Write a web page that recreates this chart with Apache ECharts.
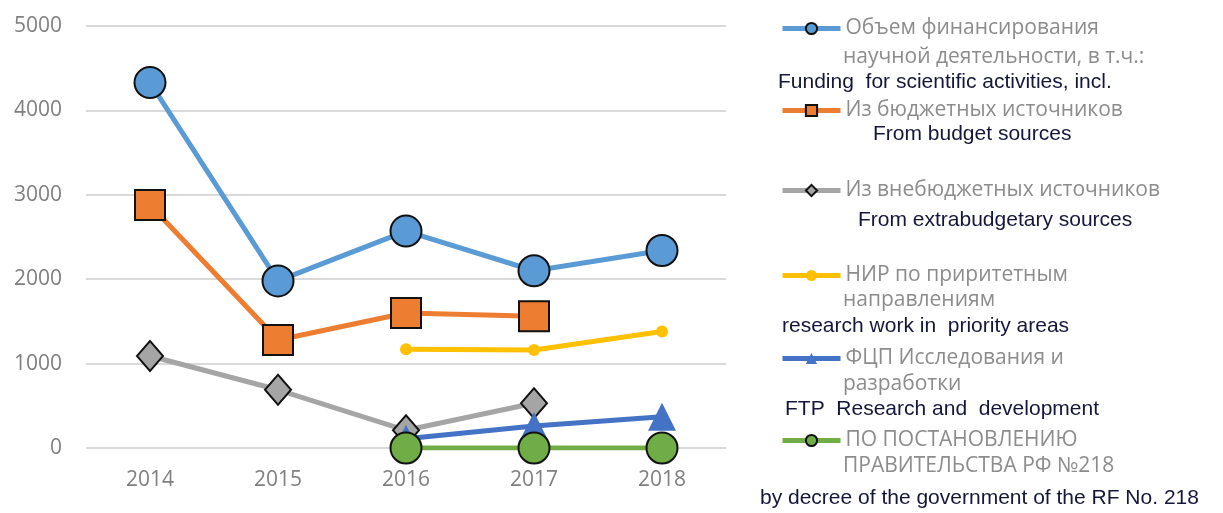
<!DOCTYPE html>
<html><head><meta charset="utf-8">
<script src="https://cdn.jsdelivr.net/npm/echarts@6/dist/echarts.min.js"></script>
<style>html,body{margin:0;padding:0;background:#fff}#c{width:1223px;height:513px}</style>
</head><body><div id="c"></div>
<script>
const years = ['2014','2015','2016','2017','2018'];
const yTicks = [0, 1000, 2000, 3000, 4000, 5000];
const totalFunding = [4330, 1980, 2570, 2100, 2340];
const budgetSources = [2880, 1280, 1600, 1560, null];
const extraBudget = [1090, 690, 210, 530, null];
const priorityAreas = [null, null, 1170, 1160, 1380];
const ftpRD = [null, null, 110, 260, 370];
const decree218 = [null, null, 0, 0, 0];

const namesRu = [
  ['Объем финансирования', 'научной деятельности, в т.ч.:'],
  ['Из бюджетных источников'],
  ['Из внебюджетных источников'],
  ['НИР по приритетным', 'направлениям'],
  ['ФЦП Исследования и', 'разработки'],
  ['ПО ПОСТАНОВЛЕНИЮ', 'ПРАВИТЕЛЬСТВА РФ №218']
];
const namesEn = [
  'Funding  for scientific activities, incl.',
  'From budget sources',
  'From extrabudgetary sources',
  'research work in  priority areas',
  'FTP  Research and  development',
  'by decree of the government of the RF No. 218'
];

const colors = ['#5B9BD5', '#ED7D31', '#A5A5A5', '#FFC000', '#4472C4', '#70AD47'];
const seriesData = [totalFunding, budgetSources, extraBudget, priorityAreas, ftpRD, decree218];
const symbols = ['circle', 'rect', 'diamond', 'circle', 'triangle', 'circle'];
const symbolSizes = [31, 30, [26, 30], 12, [28, 28], 31];
const borders = [2, 2, 2, 0, 0, 2];

const legendRowY = [25, 107, 187, 272, 355, 437];
const secondLineY = [58, 0, 0, 301, 385, 467];
const enPos = [[778, 81], [873, 133], [858, 219], [782, 325], [785, 408], [760, 497]];

const ruFont = '"Open Sans", sans-serif';
const enFont = '"Liberation Sans", Arial, sans-serif';

const series = seriesData.map((d, i) => ({
  name: namesRu[i].join(' '),
  type: 'line',
  data: d,
  symbol: symbols[i],
  symbolSize: symbolSizes[i],
  showAllSymbol: true,
  lineStyle: {color: colors[i], width: 5},
  itemStyle: {color: colors[i], borderColor: borders[i] ? '#111' : colors[i], borderWidth: borders[i]},
  emphasis: {disabled: true},
  connectNulls: false,
  z: 2 + i
}));

const legends = seriesData.map((d, i) => ({
  data: [{
    name: namesRu[i].join(' '),
    itemStyle: {color: colors[i], borderColor: borders[i] ? '#111' : colors[i], borderWidth: borders[i] ? 2 : 0},
    lineStyle: {color: colors[i], width: 5}
  }],
  left: 780,
  top: legendRowY[i] - 7,
  padding: 0,
  itemWidth: 58,
  itemHeight: 14,
  itemGap: 2,
  selectedMode: false,
  formatter: () => namesRu[i][0],
  textStyle: {color: '#8c8c8c', fontSize: 21, fontFamily: ruFont}
}));

const graphics = [];
namesRu.forEach((n, i) => {
  if (n[1]) {
    graphics.push({type: 'text', left: 843, top: secondLineY[i] - 11,
      style: {text: n[1], fill: '#8c8c8c', font: '21px ' + ruFont}});
  }
});
namesEn.forEach((t, i) => {
  graphics.push({type: 'text', left: enPos[i][0], top: enPos[i][1] - 9,
    style: {text: t, fill: '#14163a', font: '21px ' + enFont}});
});

const chart = echarts.init(document.getElementById('c'));
chart.setOption({
  animation: false,
  color: colors,
  grid: {left: 86, right: 497, top: 26, bottom: 65, containLabel: false},
  xAxis: {
    type: 'category', data: years, boundaryGap: true,
    axisLine: {show: false}, axisTick: {show: false},
    axisLabel: {color: '#7f7f7f', fontSize: 21, fontFamily: ruFont, margin: 22}
  },
  yAxis: {
    type: 'value', min: yTicks[0], max: yTicks[yTicks.length - 1], interval: 1000,
    axisLine: {show: false}, axisTick: {show: false},
    axisLabel: {color: '#7f7f7f', fontSize: 21, fontFamily: ruFont, margin: 24, formatter: v => String(v)},
    splitLine: {lineStyle: {color: '#d9d9d9', width: 2}}
  },
  legend: legends,
  graphic: graphics,
  series: series
});
</script></body></html>
